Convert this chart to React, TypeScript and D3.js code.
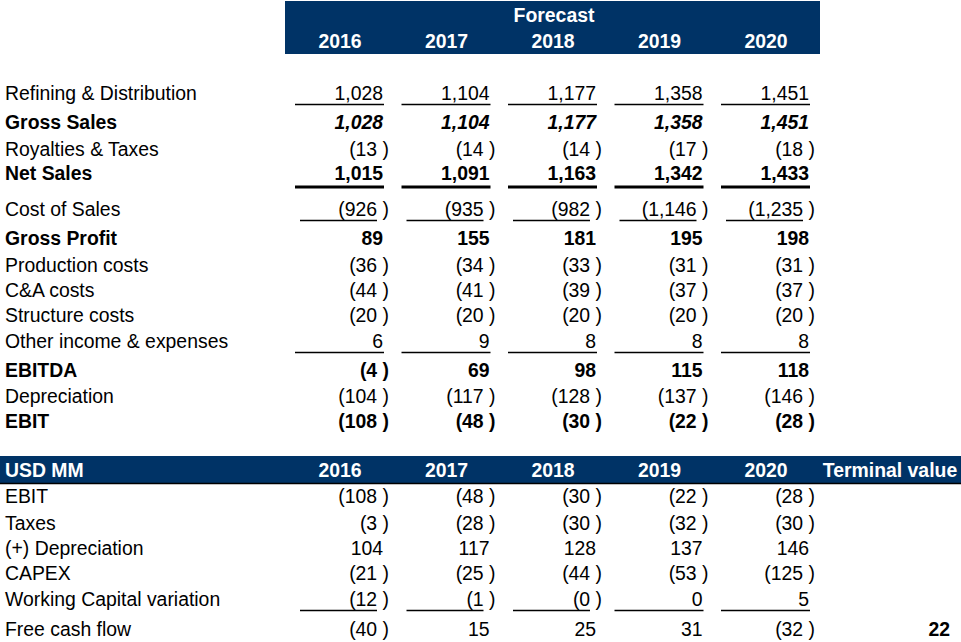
import React, { useEffect } from "react";
import * as d3 from "d3";

const years = ["2016", "2017", "2018", "2019", "2020"];

const refining = [1028, 1104, 1177, 1358, 1451];
const grossSales = [1028, 1104, 1177, 1358, 1451];
const royalties = [-13, -14, -14, -17, -18];
const netSales = [1015, 1091, 1163, 1342, 1433];
const costOfSales = [-926, -935, -982, -1146, -1235];
const grossProfit = [89, 155, 181, 195, 198];
const productionCosts = [-36, -34, -33, -31, -31];
const caCosts = [-44, -41, -39, -37, -37];
const structureCosts = [-20, -20, -20, -20, -20];
const otherIncome = [6, 9, 8, 8, 8];
const ebitda = [-4, 69, 98, 115, 118];
const depreciation = [-104, -117, -128, -137, -146];
const ebit = [-108, -48, -30, -22, -28];

const cfEbit = [-108, -48, -30, -22, -28];
const cfTaxes = [-3, -28, -30, -32, -30];
const cfDepreciation = [104, 117, 128, 137, 146];
const cfCapex = [-21, -25, -44, -53, -125];
const cfWorkingCapital = [-12, -1, -0.2, 0, 5];
const cfFreeCashFlow = [-40, 15, 25, 31, -32];
const terminalValue = 22;

type Row = {
  label: string;
  values: number[];
  y: number;
  bold?: boolean;
  valueItalic?: boolean;
  underline?: "thin" | "thick";
};

const pnlRows: Row[] = [
  { label: "Refining & Distribution", values: refining, y: 100, underline: "thin" },
  { label: "Gross Sales", values: grossSales, y: 129, bold: true, valueItalic: true },
  { label: "Royalties & Taxes", values: royalties, y: 156 },
  { label: "Net Sales", values: netSales, y: 180, bold: true, underline: "thick" },
  { label: "Cost of Sales", values: costOfSales, y: 216, underline: "thin" },
  { label: "Gross Profit", values: grossProfit, y: 245, bold: true },
  { label: "Production costs", values: productionCosts, y: 272 },
  { label: "C&A costs", values: caCosts, y: 297 },
  { label: "Structure costs", values: structureCosts, y: 322 },
  { label: "Other income & expenses", values: otherIncome, y: 348, underline: "thin" },
  { label: "EBITDA", values: ebitda, y: 377, bold: true },
  { label: "Depreciation", values: depreciation, y: 403 },
  { label: "EBIT", values: ebit, y: 428, bold: true },
];

const cfRows: Row[] = [
  { label: "EBIT", values: cfEbit, y: 503 },
  { label: "Taxes", values: cfTaxes, y: 530 },
  { label: "(+) Depreciation", values: cfDepreciation, y: 555 },
  { label: "CAPEX", values: cfCapex, y: 580 },
  { label: "Working Capital variation", values: cfWorkingCapital, y: 606, underline: "thin" },
  { label: "Free cash flow", values: cfFreeCashFlow, y: 636 },
];

const NAVY = "#003366";
const FONT = "'Liberation Sans', Arial, Helvetica, sans-serif";
const FS = 19.4;

const fmt = d3.format(",.0f");
const isNeg = (v: number) => v < 0 || Object.is(v, -0);
const fmtVal = (v: number) => (isNeg(v) ? `(${fmt(Math.abs(v))} )` : fmt(v));

export default function App() {
  useEffect(() => {
    document.body.style.margin = "0";
  }, []);

  const x = d3.scalePoint<string>().domain(years).range([340, 766]);
  const right = (yr: string) => (x(yr) as number) + 43;

  const renderRow = (r: Row, key: string) => (
    <g key={key}>
      <text x={5} y={r.y} fontWeight={r.bold ? "bold" : "normal"}>
        {r.label}
      </text>
      {r.values.map((v, i) => {
        const yr = years[i];
        const rx = right(yr);
        const neg = isNeg(v);
        return (
          <g key={yr}>
            <text
              x={neg ? rx + 6 : rx}
              y={r.y}
              textAnchor="end"
              fontWeight={r.bold ? "bold" : "normal"}
              fontStyle={r.valueItalic ? "italic" : "normal"}
            >
              {fmtVal(v)}
            </text>
            {r.underline === "thin" && (
              <line
                x1={neg ? rx - 83 : rx - 88}
                x2={neg ? rx - 6 : rx + 1}
                y1={r.y + 4.5}
                y2={r.y + 4.5}
                stroke="#000"
                strokeWidth={1.3}
              />
            )}
            {r.underline === "thick" && (
              <line
                x1={rx - 88}
                x2={rx + 1}
                y1={r.y + 7}
                y2={r.y + 7}
                stroke="#000"
                strokeWidth={3}
              />
            )}
          </g>
        );
      })}
    </g>
  );

  return (
    <svg
      width={961}
      height={642}
      style={{ position: "absolute", left: 0, top: 0, display: "block" }}
      fontFamily={FONT}
      fontSize={FS}
    >
      <rect x={0} y={0} width={961} height={642} fill="#fff" />
      <rect x={285} y={1} width={535} height={53} fill={NAVY} />
      <text x={554} y={22} textAnchor="middle" fill="#fff" fontWeight="bold">
        Forecast
      </text>
      {years.map((yr) => (
        <text key={yr} x={x(yr)} y={48} textAnchor="middle" fill="#fff" fontWeight="bold">
          {yr}
        </text>
      ))}

      {pnlRows.map((r, i) => renderRow(r, "p" + i))}

      <rect x={0} y={456} width={961} height={27} fill={NAVY} />
      <line x1={0} x2={961} y1={483.5} y2={483.5} stroke="#000" strokeWidth={1.5} />
      <text x={5} y={477} fill="#fff" fontWeight="bold">
        USD MM
      </text>
      {years.map((yr) => (
        <text key={"c" + yr} x={x(yr)} y={477} textAnchor="middle" fill="#fff" fontWeight="bold">
          {yr}
        </text>
      ))}
      <text x={890} y={477} textAnchor="middle" fill="#fff" fontWeight="bold">
        Terminal value
      </text>

      {cfRows.map((r, i) => renderRow(r, "c" + i))}

      <text x={950} y={636} textAnchor="end" fontWeight="bold">
        {fmt(terminalValue)}
      </text>
    </svg>
  );
}
